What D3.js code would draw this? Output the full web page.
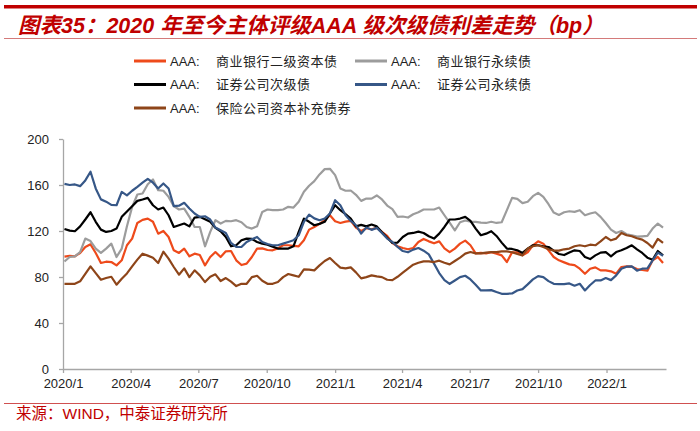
<!DOCTYPE html>
<html>
  <head>
    <meta charset="utf-8">
    <title>AAA 级次级债利差走势</title>
    <script src="https://d3js.org/d3.v7.min.js"></script>
    <style>
      body { margin: 0; background: #fff; }
      svg { display: block; }
    </style>
  </head>
  <body>
    <svg width="700" height="431"></svg>
    <script>
      // weekly observations, first one on 2020-01-03
      var startDate = new Date(2020, 0, 3);

      var names = ["AAA:  商业银行二级资本债", "AAA:  商业银行永续债", "AAA:  证券公司次级债", "AAA:  证券公司永续债", "AAA:  保险公司资本补充债券"];
      var colors = ["#ee4a1b", "#9c9c9c", "#000000", "#365787", "#8e4519"];

      var bankTier2 = [97.7,98.3,98,100.9,106.1,108.4,100.9,92.2,93.3,93,90.1,94.5,107.6,113.4,127,129.7,130.8,128,117.7,120,
        114.8,103.2,100.9,104.7,98,100.3,99.1,90.1,97.4,101.7,97.4,102.3,102.6,94.5,90.4,91.6,97.4,104.7,104.9,103.5,
        103.2,104.9,107.6,107.6,107,106.7,111.9,121.2,123.5,126.2,129.4,133.7,128.5,127,128.2,128.8,123,120,122.4,121.5,
        122.7,119.2,115.7,109.6,106.7,105.2,104.1,105.2,110.5,113.1,111,109.3,111,104.9,101.7,104.7,109,111.6,107.6,100.6,
        100.9,100.6,101.5,100.3,98.8,93,101.5,101.5,98.8,101.5,107.6,111,109,103.2,97.4,94.5,92.7,91,90.4,87.2,
        82.8,87.2,88.4,85.8,85.8,84.9,82.8,88.7,89.2,89,86.9,86.1,85.5,94.5,97.4,92.2];
      var bankPerp = [93.5,97.4,98,101.7,113.4,111.3,104.7,100.9,104.7,109,97.4,104.7,124.1,141,151.7,152.6,160.7,164.8,155.5,155,
        149.7,141.6,138.7,139.5,132.3,123.5,123.5,106.7,119.2,129.4,126.5,128.8,128.5,129.4,127.6,123.5,122.1,124.1,136.6,138.7,
        138.1,138.1,138.7,141,140.4,145.4,154.1,159.3,163.4,169.2,173.8,174.1,168.6,157,155,155.2,151.5,146.2,148.2,148.2,
        150.9,147.4,142.1,139,132.3,132.6,131.7,134.6,136.3,138.7,138.7,138.7,140.4,133.7,127.3,120.6,127.6,129.1,128,128,
        127.3,127,128,127,127.6,138.1,148.8,148,144.2,145.4,150.3,153.2,149.7,143.3,136,134,136.3,137.2,136.6,138.1,
        133.7,135.2,136.3,132.3,127,121.2,118.3,120,117.2,116.3,115.1,115.4,115.7,122.1,126.5,123];
      var brokerSub = [121.8,120.3,119.8,124,130,136.3,128,121.2,119.2,120,122.1,132.3,137,141.6,146.2,147.4,148.8,142.4,138.7,140.4,
        133.7,123.5,125,126.5,124,131.7,132.3,130.2,128,122.7,119.8,114.8,106.7,107.6,111.9,113.4,113.1,110.5,109,108.1,
        106.4,104.7,104.7,104.7,106.7,119.2,130.8,128,125,126.2,128,135.2,142.4,138.1,134.6,130.8,124,125.3,124,125.6,
        124,118.9,114.2,109.6,109.9,114.8,117.7,118.3,119.5,118.3,115.4,113.4,117.7,123.5,130,130,130.8,132.3,128.8,122.1,
        116.3,117.7,119.8,115.7,109.9,104.7,104.4,103.2,100.9,104.7,107.6,107.6,106.7,106.1,102.9,100,99.1,101.2,103.2,102.6,
        97.4,95.6,98.8,101.2,101.7,98,101.7,103.2,105.2,107.6,104.1,100.9,96.8,95,102.6,98.8];
      var brokerPerp = [161,160,160.5,159,164,171.5,157,147.5,145.5,142.7,142.4,154,151,155,158.4,162,165.4,162,157,161.3,
        157,141.6,142,144.5,139.5,135.2,132.3,132.8,130,123,120.6,118.3,109.6,106.1,106.1,110.5,112.8,114.8,110.5,108.7,
        107.6,107.6,109,110.5,111.9,116.3,128,134.3,131,129.4,130.8,135.2,146.8,142.4,133.7,128.8,125,117.7,123,121,
        122.7,118.3,113.4,110.5,106.1,102.6,101.5,103.8,105.2,102.9,99.7,91.6,83.4,77.3,74.1,77,79.9,81.1,77.9,73.3,
        68.3,68.3,68.6,66.9,65.4,65.4,65.7,68.3,69.5,73.6,77.9,80.8,79.9,76.4,74.1,73.8,73.8,74.4,72.4,74.1,
        68.3,73,77,77,79.1,77.3,81.4,87.2,89,89.2,85.5,87.2,87.5,94.5,101.2,98.5];
      var insurer = [74.1,74.1,74.1,76.2,82.8,89.2,83.4,77.6,79.1,80.2,73.3,78.5,83.1,89.2,95.1,100.3,98.6,96.8,92.2,102,
        96,88.7,82,87.5,79.9,85.8,81.4,75.6,80.2,82.3,76.5,79.1,75.9,72.1,74.1,74.1,79.9,81.1,76.7,74.1,
        74.1,75.6,79.9,82.6,81.4,80.2,86.6,86.4,85.8,90.1,93.9,96.5,92.2,88.1,87.5,88.4,84,78.8,79.9,81.4,
        80.5,79.9,77.6,77.3,80.2,83.7,87.2,90.7,92.4,93.6,93.6,93,94.2,92.4,91,93.9,96.8,100.3,101.7,100.6,
        100.6,101.2,101.7,101.7,102.3,102.3,101.5,100,98.8,104.7,106.7,107.6,106.1,104.1,102.9,102.9,104.1,104.7,106.7,107.6,
        106.7,108.1,107.6,111,114.8,111.9,113.4,118.3,116.3,115.4,113.7,112.5,109.6,105.5,113.1,109.6];

      var yTicks = [0, 40, 80, 120, 160, 200];
      var series = [bankTier2, bankPerp, brokerSub, brokerPerp, insurer];

      var dates = bankTier2.map(function (d, i) { return d3.timeDay.offset(startDate, i * 7); });

      var svg = d3.select("svg");
      var red = "#c00000";

      // header
      svg.append("rect").attr("x", 4).attr("y", 5).attr("width", 693).attr("height", 3.5).attr("fill", red);
      svg.append("text")
        .attr("x", 18).attr("y", 33)
        .attr("font-family", "Liberation Sans, Noto Sans CJK SC, sans-serif")
        .attr("font-size", "21.5px").attr("font-weight", "bold").attr("font-style", "italic")
        .attr("fill", red)
        .text("图表35：2020 年至今主体评级AAA 级次级债利差走势（bp）");
      svg.append("line").attr("x1", 4).attr("x2", 697).attr("y1", 38.5).attr("y2", 38.5)
        .attr("stroke", "#d47a7a").attr("stroke-width", 1);

      // legend
      var legend = svg.append("g").attr("font-family", "Liberation Sans, Noto Sans CJK SC, sans-serif")
        .attr("font-size", "13px").attr("fill", "#222");
      names.forEach(function (n, i) {
        var lx = i % 2 === 0 ? 134 : 355;
        var ly = 61 + Math.floor(i / 2) * 23.5;
        legend.append("line").attr("x1", lx).attr("x2", lx + 32).attr("y1", ly).attr("y2", ly)
          .attr("stroke", colors[i]).attr("stroke-width", 3);
        legend.append("text").attr("x", lx + 36).attr("y", ly + 4.5).text(n.split("  ")[0]);
        legend.append("text").attr("x", lx + 82).attr("y", ly + 4.5).attr("letter-spacing", "0.5px").text(n.split("  ")[1]);
      });

      // chart
      var x = d3.scaleTime()
        .domain([new Date(2020, 0, 1), new Date(2022, 2, 22)])
        .range([63, 666]);
      var y = d3.scaleLinear().domain([0, 200]).range([369, 139]);

      var xAxis = svg.append("g").attr("transform", "translate(0,369)")
        .call(d3.axisBottom(x).ticks(d3.timeMonth.every(3)).tickFormat(d3.timeFormat("%Y/%-m")).tickSize(4).tickPadding(6).tickSizeOuter(0));
      var yAxis = svg.append("g").attr("transform", "translate(63,0)")
        .call(d3.axisLeft(y).tickValues(yTicks).tickSize(4).tickPadding(10).tickSizeOuter(0));

      [xAxis, yAxis].forEach(function (ax) {
        ax.select(".domain").attr("stroke", "#a6a6a6").attr("stroke-width", 1.3);
        ax.selectAll(".tick line").attr("stroke", "#a6a6a6").attr("stroke-width", 1.3);
        ax.selectAll(".tick text").attr("font-family", "Liberation Sans, Arial, sans-serif")
          .attr("font-size", "13px").attr("fill", "#222");
      });

      var line = d3.line()
        .x(function (d, i) { return x(dates[i]); })
        .y(function (d) { return y(d); });

      svg.append("g").selectAll("path")
        .data(series)
        .enter()
        .append("path")
        .attr("d", line)
        .attr("fill", "none")
        .attr("stroke", function (d, i) { return colors[i]; })
        .attr("stroke-width", 2.2)
        .attr("stroke-linejoin", "round");

      // footer
      svg.append("line").attr("x1", 4).attr("x2", 697).attr("y1", 403.5).attr("y2", 403.5)
        .attr("stroke", "#d05050").attr("stroke-width", 1.2);
      svg.append("text")
        .attr("x", 16).attr("y", 419)
        .attr("font-family", "Liberation Sans, Noto Sans CJK SC, sans-serif")
        .attr("font-size", "15.5px").attr("fill", red)
        .text("来源：WIND，中泰证券研究所");
    </script>
  </body>
</html>
